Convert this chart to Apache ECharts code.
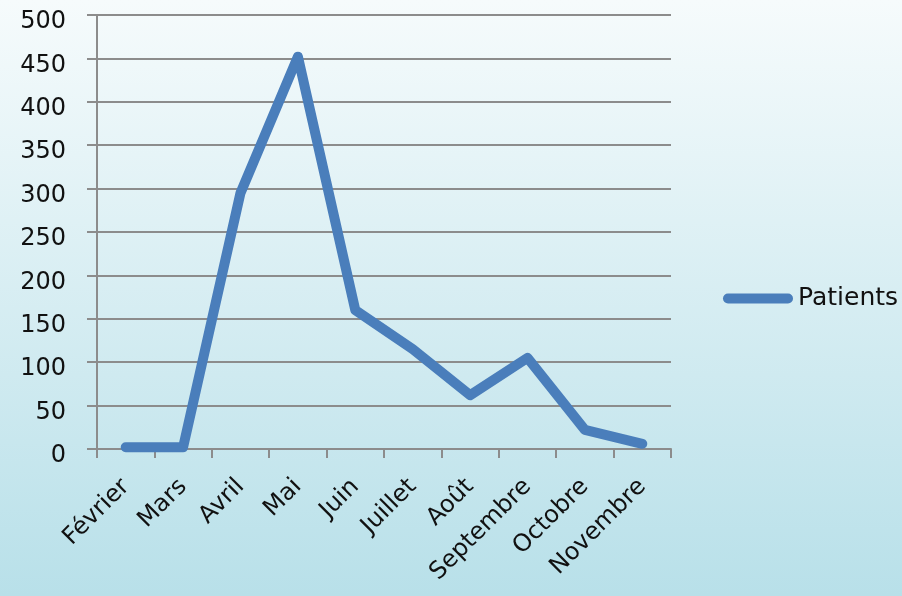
<!DOCTYPE html>
<html>
<head>
<meta charset="utf-8">
<script src="https://cdn.jsdelivr.net/npm/echarts@6/dist/echarts.min.js"></script>
<style>
  html, body { margin: 0; padding: 0; }
  #chart { width: 902px; height: 596px; }
</style>
</head>
<body>
<div id="chart"></div>
<script>
// données
const months = ['Février', 'Mars', 'Avril', 'Mai', 'Juin', 'Juillet', 'Août', 'Septembre', 'Octobre', 'Novembre'];
const patients = [2, 2, 295, 452, 160, 115, 62, 105, 22, 6];
const seriesName = 'Patients';

const chart = echarts.init(document.getElementById('chart'));
const font = 'DejaVu Sans';
const grey = '#8c8c8c';

chart.setOption({
    backgroundColor: {
        type: 'linear', x: 0, y: 0, x2: 0, y2: 1,
        colorStops: [
            { offset: 0, color: '#f6fbfc' },
            { offset: 1, color: '#b8e0e9' }
        ]
    },
    textStyle: { fontFamily: font },
    grid: { left: 97, right: 231, top: 15, bottom: 147 },
    legend: {
        left: 718,
        top: 281,
        itemWidth: 70,
        itemHeight: 10,
        icon: 'path://M5,0 H65 A5,5 0 0 1 65,10 H5 A5,5 0 0 1 5,0 Z',
        textStyle: { fontFamily: font, fontSize: 25, color: '#111' },
        data: [seriesName]
    },
    xAxis: {
        type: 'category',
        data: months,
        boundaryGap: true,
        axisLine: { lineStyle: { color: grey, width: 2 } },
        axisTick: { show: true, length: 9, lineStyle: { color: grey, width: 2 } },
        axisLabel: {
            rotate: 45,
            margin: 34,
            fontSize: 24,
            color: '#111',
            fontFamily: font,
            interval: 0
        }
    },
    yAxis: {
        type: 'value',
        min: 0,
        max: 500,
        interval: 50,
        axisLine: { show: true, lineStyle: { color: grey, width: 2 } },
        axisTick: { show: true, length: 10, lineStyle: { color: grey, width: 2 } },
        splitLine: { lineStyle: { color: grey, width: 2 } },
        axisLabel: {
            margin: 31, fontSize: 24, color: '#111', fontFamily: font,
            verticalAlign: 'top', lineHeight: 14
        }
    },
    series: [{
        name: seriesName,
        type: 'line',
        data: patients,
        symbol: 'none',
        itemStyle: { color: '#4a7ebb' },
        lineStyle: { color: '#4a7ebb', width: 10, cap: 'round', join: 'round' }
    }]
});
</script>
</body>
</html>
